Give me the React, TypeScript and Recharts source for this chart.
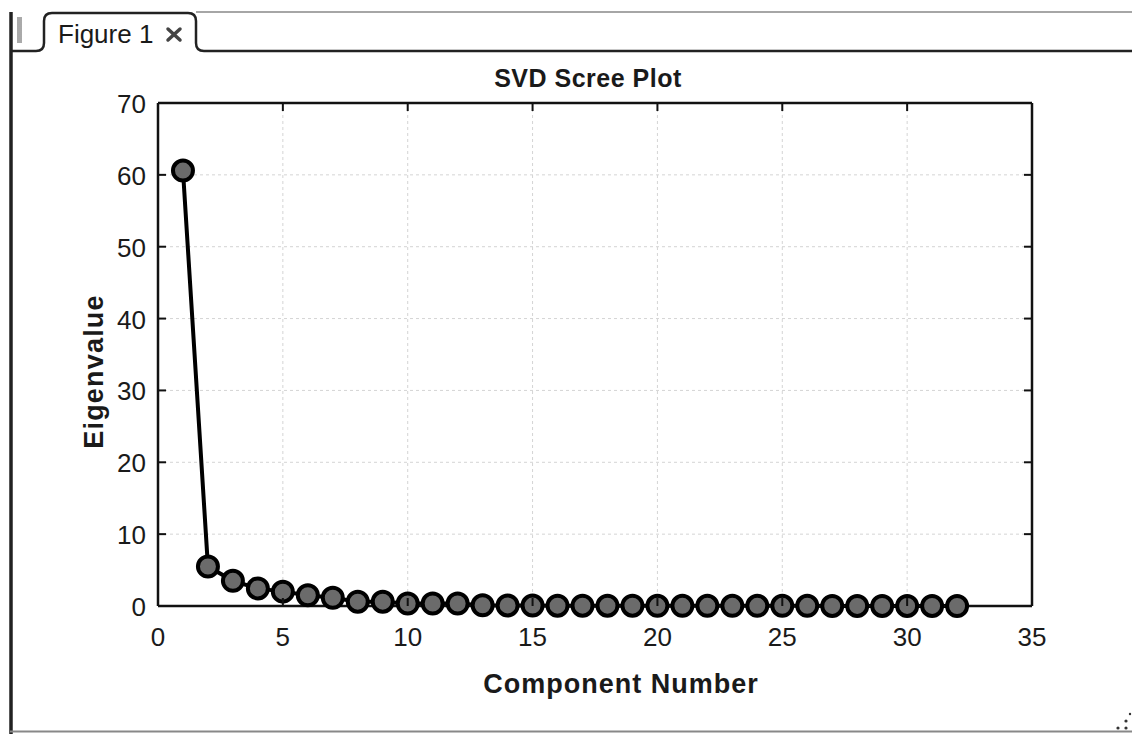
import React from 'react';
import {
  CartesianGrid,
  Line,
  LineChart,
  ReferenceLine,
  XAxis,
  YAxis,
} from 'recharts';

// values
const components = [
  1, 2, 3, 4, 5, 6, 7, 8, 9, 10, 11, 12, 13, 14, 15, 16, 17, 18, 19, 20, 21,
  22, 23, 24, 25, 26, 27, 28, 29, 30, 31, 32,
];
const eigenvalues = [
  60.6, 5.5, 3.5, 2.45, 2.0, 1.5, 1.15, 0.6, 0.6, 0.35, 0.35, 0.35, 0.1, 0.08,
  0.06, 0.05, 0.05, 0.04, 0.04, 0.03, 0.03, 0.03, 0.02, 0.02, 0.02, 0.02, 0.01,
  0.01, 0.01, 0.01, 0.01, 0,
];
const xTicks = [0, 5, 10, 15, 20, 25, 30, 35];
const yTicks = [0, 10, 20, 30, 40, 50, 60, 70];

const W = 1132;
const H = 734;
const PLOT = { left: 158, top: 103, right: 1032, bottom: 606 };
const Y_AXIS_W = 60;
const X_AXIS_H = 100;
const FONT = '"Liberation Sans", Arial, Helvetica, sans-serif';
const INK = '#111';

const data = components.map((c, i) => ({ component: c, eigenvalue: eigenvalues[i] }));

function XTick(props: any) {
  const { x, payload } = props;
  return (
    <g>
      <line x1={x} x2={x} y1={PLOT.bottom} y2={PLOT.bottom - 8} stroke={INK} strokeWidth={2} />
      <line x1={x} x2={x} y1={PLOT.top} y2={PLOT.top + 8} stroke={INK} strokeWidth={2} />
      <text
        x={x}
        y={PLOT.bottom + 40}
        textAnchor="middle"
        fontFamily={FONT}
        fontSize={26}
        fill="#1a1a1a"
      >
        {payload.value}
      </text>
    </g>
  );
}

function YTick(props: any) {
  const { y, payload } = props;
  return (
    <g>
      <line x1={PLOT.left} x2={PLOT.left + 8} y1={y} y2={y} stroke={INK} strokeWidth={2} />
      <line x1={PLOT.right} x2={PLOT.right - 8} y1={y} y2={y} stroke={INK} strokeWidth={2} />
      <text
        x={PLOT.left - 12}
        y={y + 10}
        textAnchor="end"
        fontFamily={FONT}
        fontSize={26}
        fill="#1a1a1a"
      >
        {payload.value}
      </text>
    </g>
  );
}

function Frame() {
  const grip = [];
  for (let y = 18; y <= 42; y += 2) {
    grip.push(<line key={y} x1={17} x2={22} y1={y} y2={y} stroke="#555" strokeWidth={1} />);
  }
  return (
    <svg width={W} height={H} style={{ position: 'absolute', left: 0, top: 0 }}>
      <line x1={196} x2={W} y1={12} y2={12} stroke="#888" strokeWidth={1.5} />
      <path
        d="M 10 51 L 36 51 Q 44 51 44 43 L 44 21 Q 44 13 52 13 L 188 13 Q 196 13 196 21 L 196 43 Q 196 51 204 51 L 1132 51"
        fill="none"
        stroke="#222"
        strokeWidth={2.5}
      />
      <line x1={11} x2={11} y1={12} y2={H} stroke="#222" strokeWidth={3.5} />
      {grip}
      <text x={58} y={43} fontFamily={FONT} fontSize={26} fill="#1a1a1a">
        Figure 1
      </text>
      <g stroke="#444" strokeWidth={3.5} strokeLinecap="round">
        <line x1={168} y1={29} x2={180} y2={40} />
        <line x1={180} y1={29} x2={168} y2={40} />
      </g>
      <line x1={10} x2={W} y1={731.5} y2={731.5} stroke="#888" strokeWidth={2} />
      <g fill="#333">
        <circle cx={1118} cy={728} r={1.6} />
        <circle cx={1126} cy={728} r={1.6} />
        <circle cx={1126} cy={721} r={1.6} />
        <circle cx={1130} cy={714} r={1.2} />
      </g>
    </svg>
  );
}

export default function App() {
  return (
    <div
      style={{
        position: 'fixed',
        left: 0,
        top: 0,
        width: W,
        height: H,
        background: '#fff',
        overflow: 'hidden',
      }}
    >
      <Frame />
      <div style={{ position: 'absolute', left: 0, top: 0 }}>
        <LineChart
          width={W}
          height={H}
          data={data}
          margin={{
            top: PLOT.top,
            right: W - PLOT.right,
            bottom: H - PLOT.bottom - X_AXIS_H,
            left: PLOT.left - Y_AXIS_W,
          }}
        >
          <CartesianGrid stroke="#d4d4d4" strokeDasharray="3 3" />
          <XAxis
            dataKey="component"
            type="number"
            domain={[0, 35]}
            ticks={xTicks}
            interval={0}
            height={X_AXIS_H}
            tickSize={0}
            tickLine={false}
            tick={(p: any) => <XTick {...p} />}
            axisLine={{ stroke: INK, strokeWidth: 2.5 }}
            label={{
              value: 'Component Number',
              position: 'insideBottom',
              offset: 13,
              dx: 26,
              style: {
                fontFamily: FONT,
                fontSize: 27,
                fontWeight: 'bold',
                letterSpacing: 1,
                fill: '#1a1a1a',
              },
            }}
          />
          <YAxis
            type="number"
            domain={[0, 70]}
            ticks={yTicks}
            interval={0}
            width={Y_AXIS_W}
            tickSize={0}
            tickLine={false}
            tick={(p: any) => <YTick {...p} />}
            axisLine={{ stroke: INK, strokeWidth: 2.5 }}
            label={{
              value: 'Eigenvalue',
              content: () => (
                <text
                  transform={`translate(${PLOT.left - 55}, ${(PLOT.top + PLOT.bottom) / 2 + 17}) rotate(-90)`}
                  textAnchor="middle"
                  fontFamily={FONT}
                  fontSize={27}
                  fontWeight="bold"
                  letterSpacing={1.2}
                  fill="#1a1a1a"
                >
                  Eigenvalue
                </text>
              ),
            }}
          />
          <ReferenceLine
            y={70}
            stroke={INK}
            strokeWidth={2.5}
            label={{
              value: 'SVD Scree Plot',
              position: 'top',
              offset: 16,
              dx: -7,
              style: {
                fontFamily: FONT,
                fontSize: 25,
                fontWeight: 'bold',
                letterSpacing: 0.5,
                fill: '#1a1a1a',
              },
            }}
          />
          <ReferenceLine x={35} stroke={INK} strokeWidth={2.5} />
          <Line
            type="linear"
            dataKey="eigenvalue"
            stroke="#000"
            strokeWidth={4}
            dot={{ r: 10, fill: '#6b6b6b', stroke: '#000', strokeWidth: 4 }}
            isAnimationActive={false}
          />
        </LineChart>
      </div>
    </div>
  );
}
